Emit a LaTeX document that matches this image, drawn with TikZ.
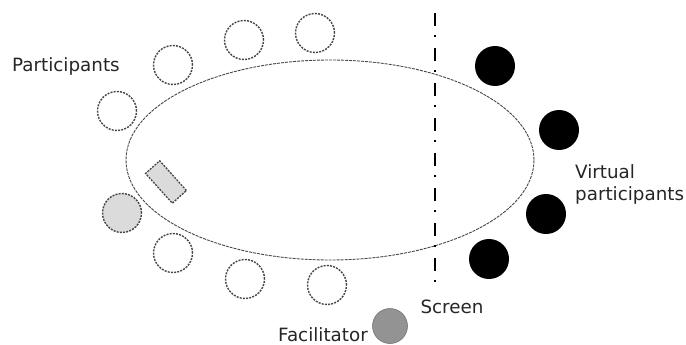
\documentclass[tikz,border=0pt]{standalone}
\usepackage{fontspec}
\setmainfont{DejaVu Sans}
\usetikzlibrary{shapes.geometric}
\begin{document}
\begin{tikzpicture}[x=1pt,y=-1pt,
  person/.style={circle,draw=gray!55!black,line width=1.4pt,dash pattern=on 2pt off 1.2pt,minimum size=39pt,inner sep=0pt},
  virtual/.style={circle,fill=black,minimum size=40pt,inner sep=0pt},
  lbl/.style={font=\fontsize{18.3}{22}\selectfont,inner sep=0pt,text=black!85}]
\useasboundingbox (0,0) rectangle (686,345);
% table
\node[ellipse,draw=gray!55!black,line width=0.9pt,dash pattern=on 3pt off 1pt,minimum width=408pt,minimum height=200pt,inner sep=0pt] (table) at (330,160) {};
% participants
\node[person] (p1) at (117,111) {};
\node[person] (p2) at (173,65) {};
\node[person] (p3) at (244,40) {};
\node[person] (p4) at (315,33) {};
\node[person] (p5) at (173,253) {};
\node[person] (p6) at (245,279) {};
\node[person] (p7) at (327,285) {};
\node[person,fill=gray!28] (pg) at (122,213) {};
\node[draw=gray!55!black,fill=gray!28,line width=1.3pt,dash pattern=on 2pt off 1.2pt,minimum width=40pt,minimum height=19pt,inner sep=0pt,rotate=-48] (dev) at (166,182) {};
% virtual participants
\node[virtual] (v1) at (495,66) {};
\node[virtual] (v2) at (559,130) {};
\node[virtual] (v3) at (546,214) {};
\node[virtual] (v4) at (489,259) {};
% screen
\coordinate (stop) at (435,13);
\coordinate (sbot) at (435,290);
\draw[line width=2.4pt,dash pattern=on 13pt off 9pt on 2pt off 11pt] (stop) -- (sbot);
% facilitator
\node[circle,fill=gray!85,draw=gray!90!black,line width=0.6pt,minimum size=35pt,inner sep=0pt] (fac) at (390,326) {};
% labels
\node[lbl,anchor=base west] (lpart) at (12,72) {Participants};
\node[lbl,anchor=base west] (lvirt1) at (575,178) {Virtual};
\node[lbl,anchor=base west] (lvirt2) at (575,200) {participants};
\node[lbl,anchor=base] (lscreen) at (452,313) {Screen};
\node[lbl,anchor=base east] (lfac) at (368,341) {Facilitator};
\end{tikzpicture}
\end{document}
